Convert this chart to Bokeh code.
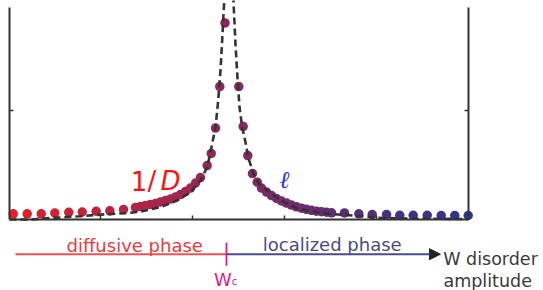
import numpy as np
from bokeh.plotting import figure
from bokeh.models import (ColumnDataSource, LinearAxis, FixedTicker, Range1d,
                          LinearColorMapper, Arrow, NormalHead)
from bokeh.transform import transform
from bokeh.core.properties import value
from bokeh.embed import file_html
from bokeh.resources import INLINE

# ---- data (x: disorder W, y: 1/D or localization length, arbitrary units) ----
dot_x = [0.046, 0.198, 0.351, 0.499, 0.651, 0.797, 0.949, 1.098, 1.247,
         1.377, 1.432, 1.486, 1.541, 1.595, 1.650, 1.704, 1.758, 1.813, 1.867,
         1.922, 1.976, 2.031, 2.085, 2.158, 2.202, 2.249, 2.295, 2.352,
         2.502, 2.550, 2.600, 2.651, 2.703, 2.749, 2.804, 2.858, 2.913, 2.967,
         3.022, 3.076, 3.130, 3.185, 3.239, 3.294, 3.348, 3.403, 3.457, 3.512,
         3.653, 3.809, 3.955, 4.111, 4.255, 4.401, 4.554, 4.706, 4.854, 5.000]
dot_y = [0.052, 0.052, 0.052, 0.060, 0.066, 0.069, 0.076, 0.080, 0.092,
         0.110, 0.119, 0.128, 0.138, 0.147, 0.161, 0.174, 0.188, 0.206, 0.229,
         0.257, 0.289, 0.335, 0.385, 0.495, 0.606, 0.839, 1.220, 1.803,
         1.220, 0.853, 0.587, 0.422, 0.343, 0.289, 0.252, 0.220, 0.193, 0.170,
         0.151, 0.133, 0.117, 0.104, 0.094, 0.084, 0.077, 0.072, 0.067, 0.062,
         0.061, 0.052, 0.046, 0.046, 0.039, 0.039, 0.039, 0.037, 0.037, 0.037]

invD_x = [0.005, 0.234, 0.416, 0.597, 0.779, 0.960, 1.124, 1.287, 1.432, 1.650,
          1.831, 1.976, 2.085, 2.158, 2.194, 2.219, 2.249, 2.278, 2.303, 2.321,
          2.339, 2.349]
invD_y = [0.000, 0.000, 0.012, 0.021, 0.030, 0.043, 0.052, 0.058, 0.073, 0.113,
          0.174, 0.250, 0.358, 0.480, 0.615, 0.725, 0.847, 1.092, 1.367, 1.642,
          1.936, 2.055]

ell_x = [2.442, 2.448, 2.466, 2.485, 2.510, 2.539, 2.575, 2.608, 2.662, 2.728,
         2.811, 2.913, 3.029, 3.138, 3.247, 3.370, 3.500, 3.664, 3.827, 4.023,
         4.230, 4.590, 5.003]
ell_y = [2.055, 1.936, 1.612, 1.337, 1.030, 0.847, 0.709, 0.560, 0.422, 0.321,
         0.266, 0.202, 0.144, 0.104, 0.083, 0.064, 0.052, 0.041, 0.032, 0.016,
         0.011, 0.007, 0.005]

x_ticks = [1, 2, 3, 4]
y_ticks = [1]
x_max = 5
y_top = 1.945

w_c = 2.368
phase_y = -0.318
phase_start = 0.071
phase_end = 4.698

# ---- figure ----
p = figure(width=543, height=290, output_backend="svg", toolbar_location=None,
           x_range=Range1d(-0.0926, 5.820), y_range=Range1d(-0.651, 2.009),
           x_axis_location=None, y_axis_location=None, min_border=0,
           outline_line_color=None, background_fill_color="white",
           border_fill_color="white")
p.grid.visible = False

axis_style = dict(major_tick_in=4, major_tick_out=0, minor_tick_in=0, minor_tick_out=0,
                  axis_line_color="#333333", axis_line_width=2,
                  major_tick_line_color="#333333", major_tick_line_width=1.5,
                  major_label_text_color=None)
p.add_layout(LinearAxis(fixed_location=0, bounds=(0, y_top),
                        ticker=FixedTicker(ticks=y_ticks), **axis_style), "left")
p.add_layout(LinearAxis(fixed_location=x_max, bounds=(0, y_top),
                        ticker=FixedTicker(ticks=y_ticks), **axis_style), "right")
p.add_layout(LinearAxis(fixed_location=0, bounds=(0, x_max),
                        ticker=FixedTicker(ticks=x_ticks), **axis_style), "below")

# colour gradient red -> blue along W
red = np.array([230, 30, 38])
blue = np.array([42, 52, 150])
pal = ["#%02x%02x%02x" % tuple(int(round(c)) for c in red + (blue - red) * t)
       for t in np.linspace(0, 1, 256)]
mapper = LinearColorMapper(palette=pal, low=0, high=x_max)

dots = ColumnDataSource(dict(x=dot_x, y=dot_y))
p.scatter("x", "y", source=dots, size=9.5, fill_color=transform("x", mapper),
          line_color=None)

p.line(invD_x, invD_y, line_color="#333333", line_width=2.6, line_dash="7 4")
p.line(ell_x, ell_y, line_color="#333333", line_width=2.6, line_dash="7 4")

# curve labels
p.text(x=[1.415, 1.557], y=[0.353, 0.353], text=["1", "/"], text_color="#ff1010",
       text_font=value("DejaVu Sans"), text_font_size=value("26px"),
       text_align="center", text_baseline="alphabetic")
p.text(x=[1.758], y=[0.353], text=["D"], text_color="#ff1010",
       text_font=value("DejaVu Sans"), text_font_size=value("26px"),
       text_font_style="italic", text_align="center", text_baseline="alphabetic")
p.text(x=[3.0], y=[0.358], text=["ℓ"], text_color="#2a2aff",
       text_font=value("DejaVu Serif"), text_font_size=value("24px"),
       text_font_style="italic", text_align="center", text_baseline="alphabetic")

# phase axis
p.line([phase_start, w_c], [phase_y, phase_y], line_color="#f05050", line_width=2)
p.add_layout(Arrow(end=NormalHead(size=11, fill_color="#222222", line_color="#222222"),
                   x_start=w_c, y_start=phase_y, x_end=phase_end, y_end=phase_y,
                   line_color="#4a4a90", line_width=2))
p.line([w_c, w_c], [-0.211, -0.425], line_color="#e6197f", line_width=1.8)

p.text(x=[1.369], y=[-0.236], text=["diffusive phase"], text_color="#f03a3a",
       text_font=value("DejaVu Sans"), text_font_size=value("18px"),
       text_align="center", text_baseline="alphabetic")
p.text(x=[3.519], y=[-0.227], text=["localized phase"], text_color="#4a4a8c",
       text_font=value("DejaVu Sans"), text_font_size=value("18px"),
       text_align="center", text_baseline="alphabetic")
p.text(x=[4.728, 4.731], y=[-0.366, -0.562], text=["W disorder", "amplitude"],
       text_color="#3a3a3a", text_font=value("DejaVu Sans"),
       text_font_size=value("17.5px"), text_align="left", text_baseline="alphabetic")
p.text(x=[2.330], y=[-0.548], text=["W"], text_color="#e6197f",
       text_font=value("DejaVu Sans"), text_font_size=value("18px"),
       text_align="center", text_baseline="alphabetic")
p.text(x=[2.455], y=[-0.572], text=["c"], text_color="#e6197f",
       text_font=value("DejaVu Sans"), text_font_size=value("10px"),
       text_align="center", text_baseline="alphabetic")

open("out.html", "w").write(file_html(p, INLINE))
